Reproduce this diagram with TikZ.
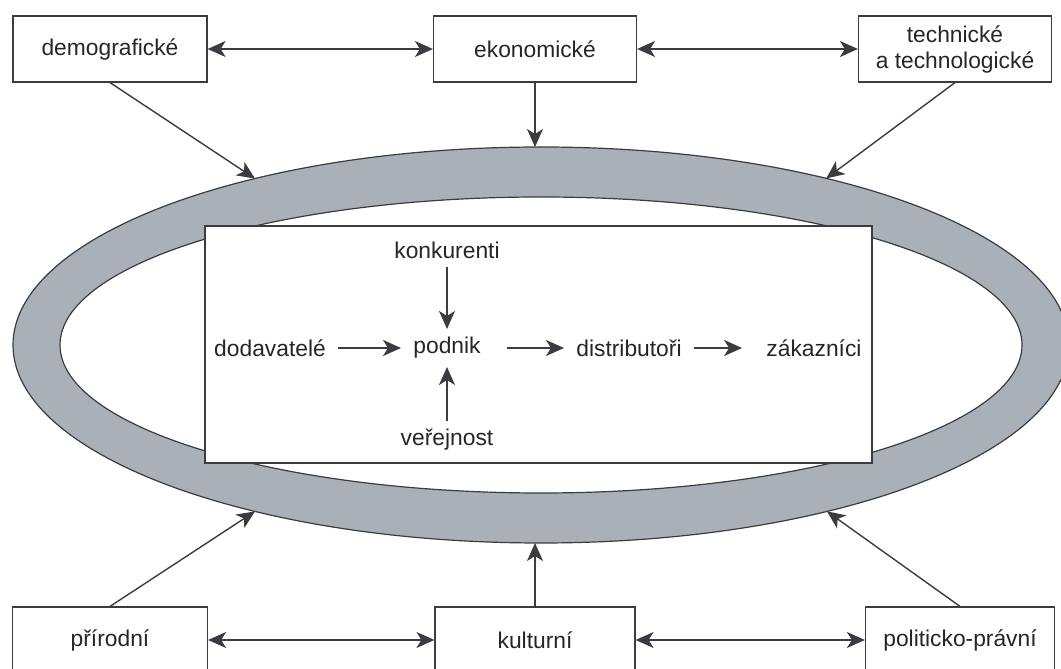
\documentclass[tikz,border=0pt]{standalone}
\usepackage{fontspec}
\setmainfont{Liberation Sans}
\usetikzlibrary{arrows.meta,calc,positioning}
\definecolor{ringgray}{RGB}{170,176,183}
\definecolor{ink}{RGB}{58,60,66}
\newcommand{\envfont}{\fontsize{11.4}{13}\selectfont}
\tikzset{
  >={Stealth[length=9pt,width=8pt,inset=2.5pt]},
  envbox/.style={draw=ink,fill=white,line width=0.6pt,minimum height=33pt,
    inner sep=2pt,align=center,font=\envfont,text=black!85},
  actor/.style={font=\envfont,text=black!85,inner xsep=6pt,inner ysep=4pt},
  link/.style={ink,line width=0.7pt},
  flow/.style={->,ink,line width=1pt},
  ringline/.style={ink,line width=0.6pt},
}
\begin{document}
\begin{tikzpicture}[x=0.5pt,y=0.5pt]
  \useasboundingbox (0,0) rectangle (1061,669);
  % ring of the macro environment
  \coordinate (ell) at (541,324);
  \fill[ringgray,even odd rule] (ell) ellipse [x radius=528,y radius=198]
                                (ell) ellipse [x radius=481,y radius=148];
  \draw[ringline] (ell) ellipse [x radius=528,y radius=198];
  \draw[ringline] (ell) ellipse [x radius=481,y radius=148];
  \coordinate (rTop) at ($(ell)+(0,198)$);
  \coordinate (rBot) at ($(ell)+(0,-198)$);
  \coordinate (rDemo) at ($(ell)+(122.8:528 and 198)$);
  \coordinate (rTech) at ($(ell)+(57.3:528 and 198)$);
  \coordinate (rPrir) at ($(ell)+(237.2:528 and 198)$);
  \coordinate (rPol)  at ($(ell)+(302.8:528 and 198)$);
  % micro environment
  \node[draw=ink,fill=white,line width=0.6pt,minimum width=333.5pt,
    minimum height=118.5pt,inner sep=0pt] (firm) at (538.5,324.5) {};
  \node[actor] (konk) at (447,419) {konkurenti};
  \node[actor] (podn) at (447,321) {podnik};
  \node[actor] (dod) at (270,321) {dodavatelé};
  \node[actor] (distr) at (629,321) {distributoři};
  \node[actor] (zak) at (814,321) {zákazníci};
  \node[actor] (ver) at (447,229) {veřejnost};
  \draw[flow] (konk) -- (podn);
  \draw[flow] (ver) -- (podn);
  \draw[flow] (dod) -- (podn);
  \draw[flow,shorten <=7pt] (podn) -- (distr);
  \draw[flow,shorten >=6pt] (distr) -- (zak);
  % macro factors, top row
  \node[envbox,minimum width=97pt] (demo) at (110,620) {demografické};
  \node[envbox,minimum width=101.5pt] (ekon) at (535,620) {ekonomické};
  \node[envbox,minimum width=96.5pt] (tech) at (955,620) {technické\\a technologické};
  % macro factors, bottom row
  \node[envbox,minimum width=97.5pt] (prir) at (110,29) {přírodní};
  \node[envbox,minimum width=100pt] (kult) at (535,29) {kulturní};
  \node[envbox,minimum width=94.5pt] (pol) at (960,29) {politicko-právní};
  % links between factors
  \draw[link,<->] (demo) -- (ekon);
  \draw[link,<->] (ekon) -- (tech);
  \draw[link,<->] (prir) -- (kult);
  \draw[link,<->] (kult) -- (pol);
  % influence on the ring
  \draw[link,->] (demo.south) -- (rDemo);
  \draw[link,->] (ekon) -- (ekon |- rTop);
  \draw[link,->] (tech.south) -- (rTech);
  \draw[link,->] (prir.north) -- (rPrir);
  \draw[link,->] (kult) -- (kult |- rBot);
  \draw[link,->] (pol.north) -- (rPol);
\end{tikzpicture}
\end{document}
